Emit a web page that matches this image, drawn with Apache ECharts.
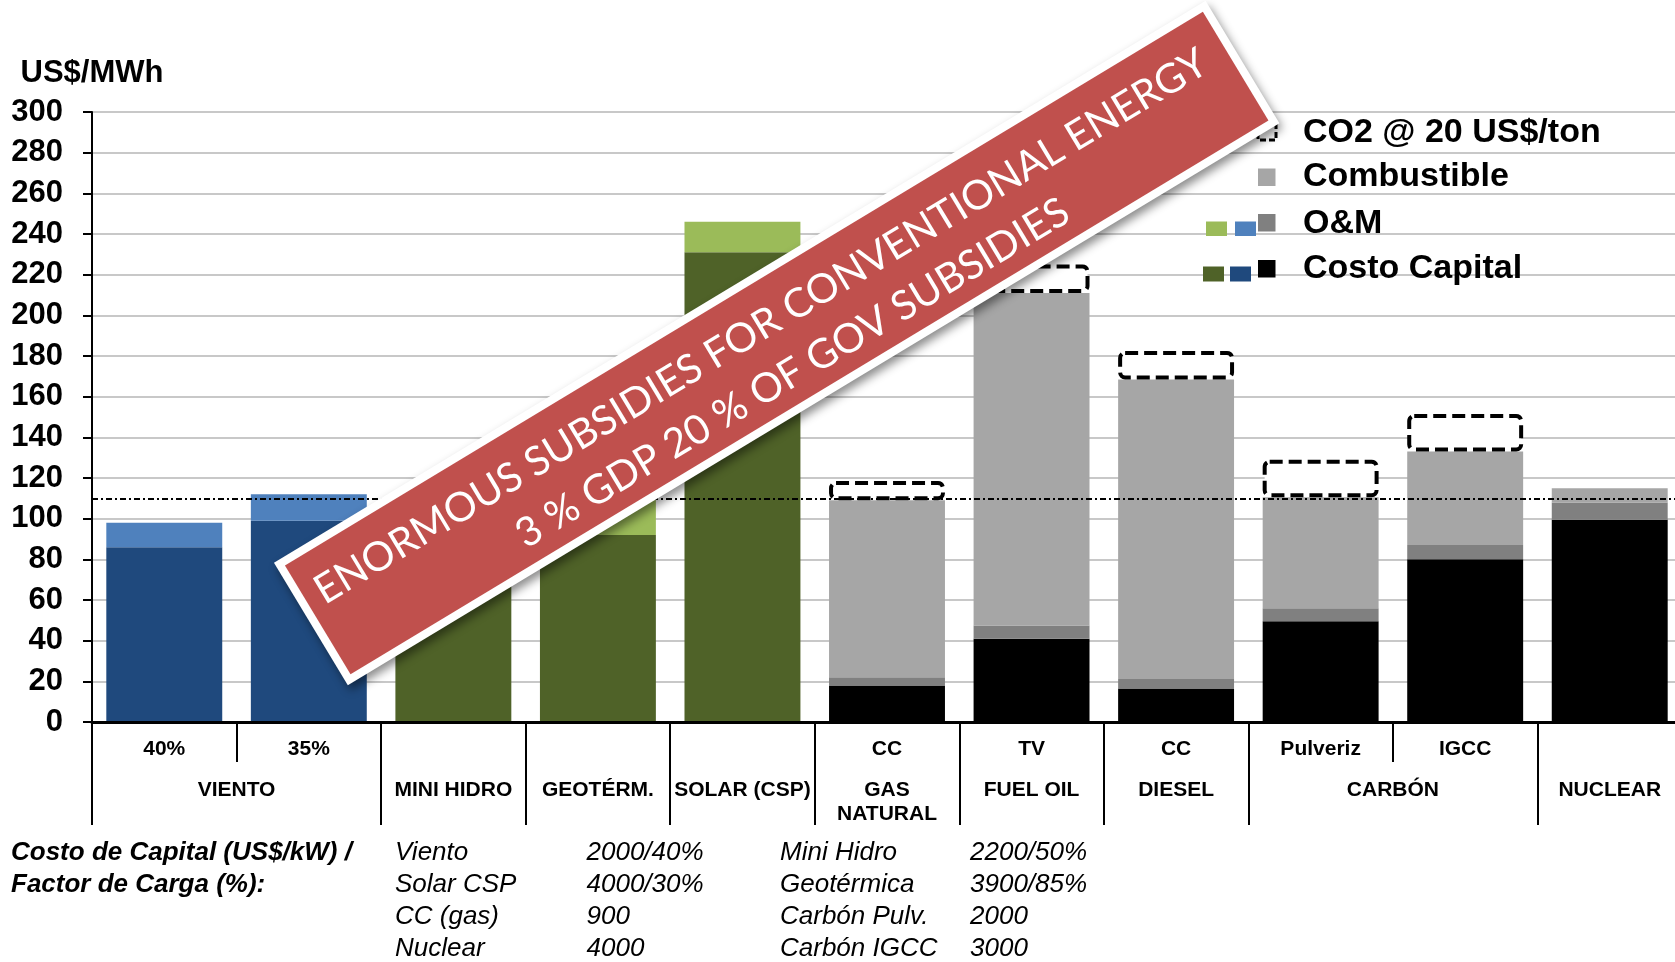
<!DOCTYPE html>
<html>
<head>
<meta charset="utf-8">
<script src="https://cdn.jsdelivr.net/npm/echarts@6/dist/echarts.min.js"></script>
<style>html,body{margin:0;padding:0;background:#fff}#c{width:1675px;height:962px}</style>
</head>
<body>
<div id="c"></div>
<script>
// ---------------- data ----------------
const subLabels   = ['40%', '35%', '', '', '', 'CC', 'TV', 'CC', 'Pulveriz', 'IGCC', ''];
const techGroup   = ['wind', 'wind', 'renew', 'renew', 'renew', 'conv', 'conv', 'conv', 'conv', 'conv', 'conv'];
const groupLabels = ['VIENTO', 'MINI HIDRO', 'GEOTÉRM.', 'SOLAR (CSP)', 'GAS\nNATURAL', 'FUEL OIL', 'DIESEL', 'CARBÓN', 'NUCLEAR'];
const groupSpans  = [2, 1, 1, 1, 1, 1, 1, 2, 1];

const capital = [86, 99, 76, 92, 231, 18, 41, 16.5, 49.5, 80, 99.5];
const om      = [12, 13, 10, 20, 15, 4, 6.5, 4.7, 6.5, 7, 8.5];
const fuel    = ['-', '-', '-', '-', '-', 87, 163.5, 147.3, 54.5, 46, 7];
const co2     = ['-', '-', '-', '-', '-', 9.5, 14, 14, 18.5, 18.5, '-'];
const refLine = 110;

const yTicks = { min: 0, max: 300, interval: 20 };

const legendLabels = ['CO2 @ 20 US$/ton', 'Combustible', 'O&M', 'Costo Capital'];

const noteTitle  = ['Costo de Capital (US$/kW) /', 'Factor de Carga (%):'];
const noteNames1 = ['Viento', 'Solar CSP', 'CC (gas)', 'Nuclear'];
const noteVals1  = ['2000/40%', '4000/30%', '900', '4000'];
const noteNames2 = ['Mini Hidro', 'Geotérmica', 'Carbón Pulv.', 'Carbón IGCC'];
const noteVals2  = ['2200/50%', '3900/85%', '2000', '3000'];

const bannerLines = ['ENORMOUS SUBSIDIES FOR CONVENTIONAL ENERGY', '3 % GDP 20 % OF GOV SUBSIDIES'];

// ---------------- styles ----------------
const FONT = '"Liberation Sans", Arial, Helvetica, sans-serif';
const capColor = { wind: '#1F497D', renew: '#4F6228', conv: '#000000' };
const omColor  = { wind: '#4F81BD', renew: '#9BBB59', conv: '#808080' };
const fuelColor = '#A6A6A6';

// build the half-step group axis (2 points per category + 1)
const nPts = subLabels.length * 2 + 1;
const groupAxis = new Array(nPts).fill('');
const groupTickIdx = new Set();
const innerTickIdx = new Set();
let start = 0;
groupLabels.forEach((g, i) => {
  const span = groupSpans[i];
  groupAxis[2 * start + span] = g;
  groupTickIdx.add(2 * start);
  for (let k = 1; k < span; k++) innerTickIdx.add(2 * (start + k));
  start += span;
});
const blankAxis = new Array(nPts).fill(' ');

function fitSize(text, target, family) {
  const ctx = document.createElement('canvas').getContext('2d');
  ctx.font = '100px ' + family;
  return 100 * target / ctx.measureText(text).width;
}
const bannerFamily = 'Lato, "Open Sans", sans-serif';
const bannerSize = fitSize(bannerLines[0], 1035, bannerFamily);

const chart = echarts.init(document.getElementById('c'), null, { renderer: 'canvas' });

const barCommon = {
  type: 'bar', stack: 'total', barCategoryGap: '19.8%',
  emphasis: { disabled: true }, silent: true
};

// legend graphics
const legendRowsY = [132.5, 177, 223.5, 269];
const legendEls = [];
legendLabels.forEach((t, i) => {
  legendEls.push({
    type: 'text', x: 1303, y: legendRowsY[i], z: 50,
    style: { text: t, fill: '#000', font: 'bold 34px ' + FONT, align: 'left', verticalAlign: 'middle', textAlign: 'left', textVerticalAlign: 'middle' }
  });
});
legendEls.push({ type: 'rect', z: 50, shape: { x: 1258, y: 123, width: 18, height: 17 }, style: { fill: '#fff', stroke: '#000', lineWidth: 3, lineDash: [6, 3] } });
legendEls.push({ type: 'rect', z: 50, shape: { x: 1258, y: 168.5, width: 17.5, height: 17.5 }, style: { fill: fuelColor } });
legendEls.push({ type: 'rect', z: 50, shape: { x: 1206, y: 221.5, width: 21, height: 14.5 }, style: { fill: omColor.renew } });
legendEls.push({ type: 'rect', z: 50, shape: { x: 1235, y: 221.5, width: 21, height: 14.5 }, style: { fill: omColor.wind } });
legendEls.push({ type: 'rect', z: 50, shape: { x: 1258, y: 214, width: 17.5, height: 17.5 }, style: { fill: omColor.conv } });
legendEls.push({ type: 'rect', z: 50, shape: { x: 1203, y: 266.5, width: 21, height: 15 }, style: { fill: capColor.renew } });
legendEls.push({ type: 'rect', z: 50, shape: { x: 1230, y: 266.5, width: 21, height: 15 }, style: { fill: capColor.wind } });
legendEls.push({ type: 'rect', z: 50, shape: { x: 1258, y: 260, width: 17.5, height: 17.5 }, style: { fill: capColor.conv } });

// footnote graphics
const noteRowsY = [853, 885, 917, 949];
const noteEls = [];
function noteText(t, x, y, bold) {
  return {
    type: 'text', x: x, y: y, z: 50,
    style: { text: t, fill: '#000', font: 'italic ' + (bold ? 'bold ' : '') + '26px ' + FONT, align: 'left', verticalAlign: 'middle', textAlign: 'left', textVerticalAlign: 'middle' }
  };
}
noteTitle.forEach((t, i) => noteEls.push(noteText(t, 11, noteRowsY[i], true)));
noteNames1.forEach((t, i) => noteEls.push(noteText(t, 395, noteRowsY[i], false)));
noteVals1.forEach((t, i) => noteEls.push(noteText(t, 586.5, noteRowsY[i], false)));
noteNames2.forEach((t, i) => noteEls.push(noteText(t, 780, noteRowsY[i], false)));
noteVals2.forEach((t, i) => noteEls.push(noteText(t, 970, noteRowsY[i], false)));

// banner
const banner = {
  type: 'group', x: 776.7, y: 343, rotation: 31.1 * Math.PI / 180, z: 100, silent: true,
  children: [
    { type: 'rect', z: 100, shape: { x: -544, y: -71.5, width: 1088, height: 143 },
      style: { fill: '#fff', shadowBlur: 10, shadowOffsetX: 3, shadowOffsetY: 5, shadowColor: 'rgba(0,0,0,0.45)' } },
    { type: 'rect', z: 101, shape: { x: -536, y: -63.5, width: 1072, height: 127 }, style: { fill: '#C0504D' } },
    { type: 'text', z: 102, x: -5, y: -22,
      style: { text: bannerLines[0], fill: '#fff', font: bannerSize.toFixed(1) + 'px ' + bannerFamily, align: 'center', verticalAlign: 'middle', textAlign: 'center', textVerticalAlign: 'middle' } },
    { type: 'text', z: 102, x: -2, y: 34,
      style: { text: bannerLines[1], fill: '#fff', font: bannerSize.toFixed(1) + 'px ' + bannerFamily, align: 'center', verticalAlign: 'middle', textAlign: 'center', textVerticalAlign: 'middle' } }
  ]
};

const option = {
  animation: false,
  backgroundColor: '#fff',
  textStyle: { fontFamily: FONT },
  grid: { left: 92, top: 112, width: 1590, height: 610, outerBoundsMode: 'none', containLabel: false },
  xAxis: [
    {
      type: 'category', data: subLabels, position: 'bottom', z: 5,
      axisLine: { show: true, lineStyle: { color: '#000', width: 3 } },
      axisTick: { show: false },
      axisLabel: { interval: 0, fontSize: 21, fontWeight: 'bold', color: '#000', fontFamily: FONT, margin: 17 },
      splitLine: { show: false }
    },
    {
      type: 'category', data: groupAxis, boundaryGap: false, position: 'bottom',
      axisLine: { show: false },
      axisTick: { show: true, length: 103, interval: (i) => groupTickIdx.has(i), lineStyle: { color: '#000', width: 2 } },
      axisLabel: { interval: (i, v) => v !== '', fontSize: 21, fontWeight: 'bold', color: '#000', fontFamily: FONT, margin: 56, lineHeight: 24 },
      splitLine: { show: false }
    },
    {
      type: 'category', data: blankAxis, boundaryGap: false, position: 'bottom',
      axisLine: { show: false },
      axisTick: { show: true, length: 40, interval: (i) => innerTickIdx.has(i), lineStyle: { color: '#000', width: 2 } },
      axisLabel: { show: false },
      splitLine: { show: false }
    }
  ],
  yAxis: {
    type: 'value', min: yTicks.min, max: yTicks.max, interval: yTicks.interval,
    name: 'US$/MWh', nameLocation: 'end', nameGap: 23,
    nameTextStyle: { fontSize: 31, fontWeight: 'bold', color: '#000', fontFamily: FONT, align: 'center' },
    axisLine: { show: true, lineStyle: { color: '#000', width: 2 } },
    axisTick: { show: true, length: 9, lineStyle: { color: '#000', width: 2 } },
    axisLabel: { fontSize: 31, fontWeight: 'bold', color: '#000', fontFamily: FONT, margin: 29 },
    splitLine: { show: true, lineStyle: { color: '#C8C8C8', width: 2 } }
  },
  series: [
    Object.assign({}, barCommon, {
      name: 'Costo Capital', data: capital,
      itemStyle: { color: (p) => capColor[techGroup[p.dataIndex]] }
    }),
    Object.assign({}, barCommon, {
      name: 'O&M', data: om,
      itemStyle: { color: (p) => omColor[techGroup[p.dataIndex]] }
    }),
    Object.assign({}, barCommon, {
      name: 'Combustible', data: fuel,
      itemStyle: { color: fuelColor }
    }),
    Object.assign({}, barCommon, {
      name: 'CO2 @ 20 US$/ton', data: co2,
      itemStyle: { color: '#fff', borderColor: '#000', borderWidth: 4, borderType: [13, 6], borderRadius: 5 },
      markLine: {
        silent: true, symbol: 'none', label: { show: false },
        lineStyle: { color: '#000', width: 2, type: [6, 3, 2, 3] },
        data: [{ yAxis: refLine }]
      }
    })
  ],
  graphic: { elements: [].concat(legendEls, noteEls, [banner]) }
};
chart.setOption(option);
</script>
</body>
</html>
